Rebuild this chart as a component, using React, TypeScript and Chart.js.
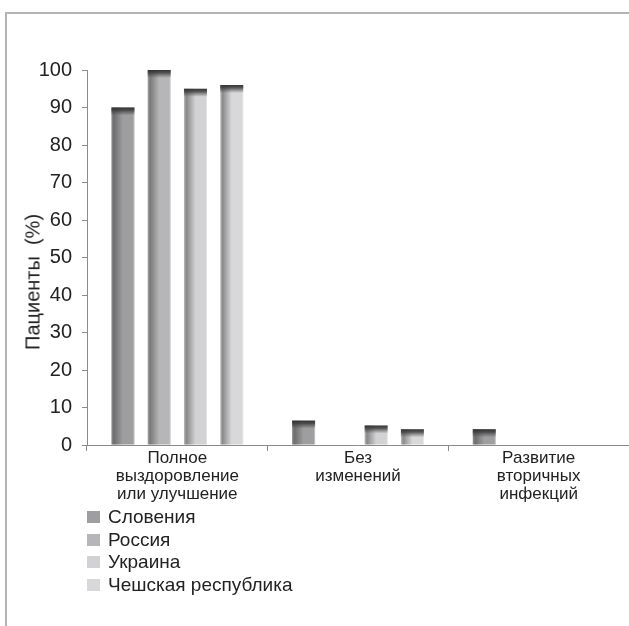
import React, { useEffect, useRef } from "react";
import { Chart, registerables } from "chart.js";

Chart.register(...registerables);

const categories: string[][] = [
  ["Полное", "выздоровление", "или улучшение"],
  ["Без", "изменений"],
  ["Развитие", "вторичных", "инфекций"],
];
const seriesNames = ["Словения", "Россия", "Украина", "Чешская республика"];
const slovenia = [90, 6.5, 4.2];
const russia = [100, 0, 0];
const ukraine = [95, 5.2, 0];
const czech = [96, 4.2, 0];
const seriesColors = ["#9e9ea0", "#b6b6b8", "#d2d2d4", "#d8d8da"];
const yAxisTitle = "Пациенты  (%)";
const yMin = 0;
const yMax = 100;
const yStep = 10;

const FONT = "'Liberation Sans', Arial, Helvetica, sans-serif";

const shadingPlugin = {
  id: "barShading",
  afterDatasetsDraw(chart: any) {
    const ctx = chart.ctx as CanvasRenderingContext2D;
    ctx.save();
    chart.data.datasets.forEach((_ds: any, i: number) => {
      const meta = chart.getDatasetMeta(i);
      meta.data.forEach((bar: any) => {
        const { x, y, base, width } = bar.getProps(["x", "y", "base", "width"], true);
        const h = base - y;
        if (h < 1) return;
        const left = x - width / 2;
        const gw = width * 0.5;
        const g = ctx.createLinearGradient(left, 0, left + gw, 0);
        g.addColorStop(0, "rgba(60,60,60,0.15)");
        g.addColorStop(0.2, "rgba(60,60,60,0.5)");
        g.addColorStop(1, "rgba(60,60,60,0)");
        ctx.fillStyle = g;
        ctx.fillRect(left, y, gw, h);
        ctx.fillStyle = "rgba(255,255,255,0.35)";
        ctx.fillRect(left + width - 1, y, 1, h);
        const capH = Math.min(8, h);
        const g2 = ctx.createLinearGradient(0, y, 0, y + capH);
        g2.addColorStop(0, "rgba(45,45,45,0.95)");
        g2.addColorStop(0.35, "rgba(55,55,55,0.8)");
        g2.addColorStop(1, "rgba(70,70,70,0)");
        ctx.fillStyle = g2;
        ctx.fillRect(left, y, width, capH);
      });
    });
    ctx.restore();
  },
};

export default function App() {
  const canvasRef = useRef<HTMLCanvasElement | null>(null);

  useEffect(() => {
    if (!canvasRef.current) return;
    const values = [slovenia, russia, ukraine, czech];
    const chart = new Chart(canvasRef.current, {
      type: "bar",
      data: {
        labels: categories,
        datasets: seriesNames.map((name, i) => ({
          label: name,
          data: values[i],
          backgroundColor: seriesColors[i],
          borderWidth: 0,
          categoryPercentage: 0.803,
          barPercentage: 0.634,
        })),
      },
      options: {
        responsive: false,
        animation: false,
        layout: { padding: { left: 0, top: 70, right: 0, bottom: 0 } },
        plugins: {
          legend: { display: false },
          tooltip: { enabled: false },
        },
        scales: {
          x: {
            grid: {
              drawOnChartArea: false,
              drawTicks: true,
              tickLength: 6,
              color: "#8a8a8a",
            },
            border: { color: "#8a8a8a", width: 1 },
            ticks: {
              color: "#222",
              padding: -1,
              maxRotation: 0,
              autoSkip: false,
              font: { family: FONT, size: 17, lineHeight: "17.6px" as any },
            },
            afterFit: (scale: any) => {
              scale.height = 75;
            },
          },
          y: {
            min: yMin,
            max: yMax,
            grid: {
              drawOnChartArea: false,
              drawTicks: true,
              tickLength: 5,
              color: "#8a8a8a",
            },
            border: { color: "#8a8a8a", width: 1 },
            ticks: {
              stepSize: yStep,
              color: "#222",
              padding: 10,
              font: { family: FONT, size: 20 },
            },
            title: { display: false },
            afterFit: (scale: any) => {
              scale.width = 87;
            },
          },
        },
      },
      plugins: [shadingPlugin],
    });
    return () => chart.destroy();
  }, []);

  return (
    <div style={{ position: "absolute", left: 0, top: 0, width: 629, height: 626, overflow: "hidden", fontFamily: FONT }}>
      <div
        style={{
          position: "absolute",
          left: 5,
          top: 12,
          width: 700,
          height: 700,
          borderLeft: "2px solid #b4b4b4",
          borderTop: "2px solid #b4b4b4",
        }}
      />
      <canvas ref={canvasRef} width={629} height={520} style={{ position: "absolute", left: 0, top: 0 }} />
      <div
        style={{
          position: "absolute",
          left: 33,
          top: 282,
          transform: "translate(-50%, -50%) rotate(-90deg)",
          fontSize: 20,
          color: "#222",
          whiteSpace: "pre",
        }}
      >
        {yAxisTitle}
      </div>
      {seriesNames.map((name, i) => (
        <div
          key={name}
          style={{
            position: "absolute",
            left: 87,
            top: 506 + i * 22.7,
            height: 22,
            display: "flex",
            alignItems: "center",
            fontSize: 19,
            color: "#222",
            whiteSpace: "nowrap",
          }}
        >
          <span style={{ display: "inline-block", width: 13, height: 12, background: seriesColors[i], marginRight: 8 }} />
          {name}
        </div>
      ))}
    </div>
  );
}
